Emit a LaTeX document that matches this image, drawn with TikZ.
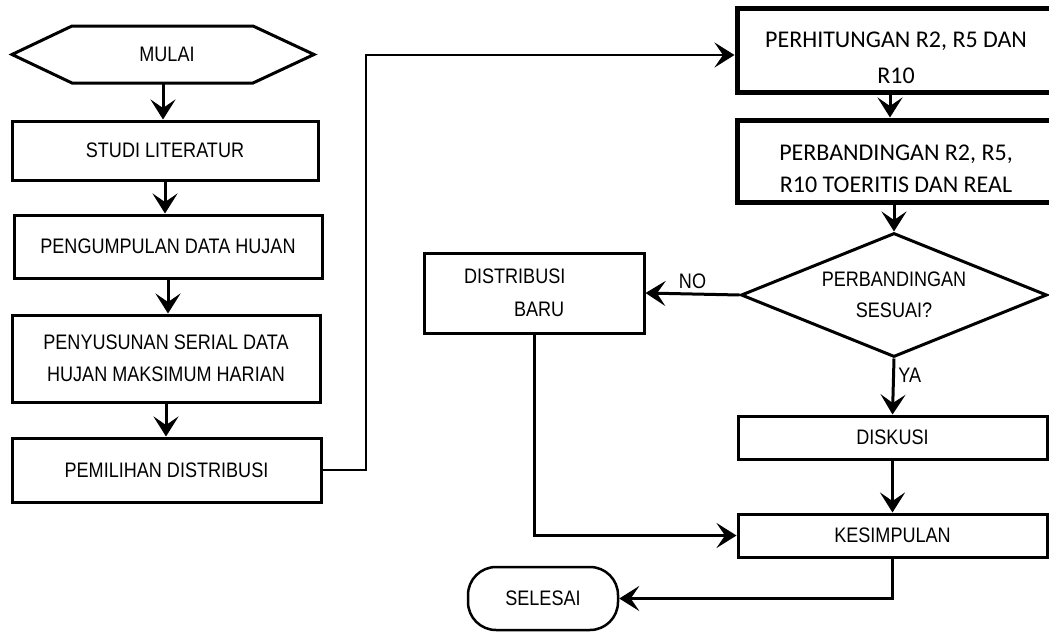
\documentclass[tikz,border=0pt]{standalone}
\usepackage{fontspec}
\usepackage{tikz}
\usetikzlibrary{positioning}
\usetikzlibrary {shapes.geometric}
\usetikzlibrary {arrows.meta}
\newfontfamily\arialnarrow[FakeStretch=0.86]{Liberation Sans}
\newfontfamily\calibri{Carlito}

\begin{document}
\begin{tikzpicture}[x=1pt,y=-1pt,
 kotak/.style={draw,line width=3pt,inner sep=0pt,align=center,font=\arialnarrow\fontsize{21}{32}\selectfont},
 kotaktebal/.style={kotak,line width=5pt,font=\calibri\fontsize{24}{36}\selectfont},
 panah/.style={line width=3pt,-{Stealth[length=20pt,width=25pt,inset=8.5pt]}},
 teks/.style={font=\arialnarrow\fontsize{21}{24}\selectfont}]
 \useasboundingbox (0,0) rectangle (1049,632);
 \clip (0,0) rectangle (1049,632);
 \draw[line width=3pt](12,54.5)--(72,26)--(253,26)--(314,54.5)--(253,83)--(72,83)--cycle;
 \node[teks] (mulai) at (167,54.5) {MULAI};
 \coordinate (mulai-bawah) at (163,83);
 \node[kotak,minimum width=306pt,minimum height=59pt] (studi) at (165,150.5) {STUDI LITERATUR};
 \node[kotak,minimum width=308pt,minimum height=63pt] (kumpul) at (168,246.5) {PENGUMPULAN DATA HUJAN};
 \node[kotak,minimum width=308pt,minimum height=87pt] (susun) at (166,358.5) {PENYUSUNAN SERIAL DATA\\HUJAN MAKSIMUM HARIAN};
 \node[kotak,minimum width=309pt,minimum height=64pt] (pilih) at (166.5,470) {PEMILIHAN DISTRIBUSI};
 \node[kotaktebal,minimum width=318pt,minimum height=84pt] (hitung) at (896,50) {\rule{0pt}{31pt}PERHITUNGAN R2, R5 DAN\\R10};
 \node[kotaktebal,font=\calibri\fontsize{24}{32}\selectfont,minimum width=318pt,minimum height=82pt] (banding) at (896,161) {\rule{0pt}{31pt}PERBANDINGAN R2, R5,\\R10 TOERITIS DAN REAL};
 \node[kotak,diamond,aspect=2.47,minimum width=306pt,minimum height=124pt,font=\arialnarrow\fontsize{21}{31}\selectfont] (sesuai) at (894,295) {PERBANDINGAN\\SESUAI?};
 \node[kotak,minimum width=220pt,minimum height=80pt,text width=220pt,align=left,font=\arialnarrow\fontsize{21}{33}\selectfont] (baru) at (534,293) {\hspace*{40pt}DISTRIBUSI\\\hspace*{90pt}BARU};
 \node[kotak,minimum width=309pt,minimum height=43pt] (diskusi) at (892.5,437.5) {DISKUSI};
 \node[kotak,minimum width=309pt,minimum height=43pt] (simpul) at (892.5,535.5) {KESIMPULAN};
 \node[kotak,line width=2.5pt,rounded corners=28pt,minimum width=150pt,minimum height=63pt] (selesai) at (543,598.5) {SELESAI};
 \coordinate (belok) at (366,55);
 \draw[panah] (mulai-bawah) -- (studi.north -| mulai-bawah);
 \draw[panah] (studi.south) -- (kumpul.north -| studi.south);
 \draw[panah] (kumpul.south) -- (susun.north -| kumpul.south);
 \draw[panah] (susun.south) -- (pilih.north -| susun.south);
 \draw[panah,line width=2.5pt] (pilih.east) -| (belok) -- (belok -| hitung.west);
 \draw[panah] ([xshift=-6pt]hitung.south) -- ([xshift=-6pt]banding.north);
 \draw[panah] (sesuai.north |- banding.south) -- (sesuai.north);
 \draw[panah] (sesuai.west) -- (baru.east) node[teks,midway,above] {NO};
 \draw[panah] (sesuai.south) -- (diskusi.north) node[teks,pos=0.3,right] {YA};
 \draw[panah] (diskusi) -- (simpul);
 \draw[panah] (baru.south) |- (simpul.west);
 \draw[panah] (simpul.south) |- (selesai.east);
\end{tikzpicture}
\end{document}
